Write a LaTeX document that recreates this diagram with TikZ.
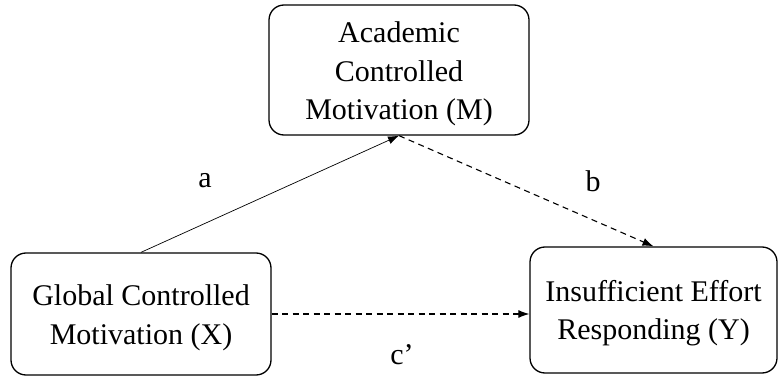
\documentclass[tikz,border=0pt]{standalone}
\usepackage{fontspec}
\setmainfont{Liberation Serif}
\usetikzlibrary{arrows.meta}
\begin{document}
\begin{tikzpicture}[x=1pt,y=-1pt,
  varbox/.style={draw, line width=1.3pt, rounded corners=15pt, inner sep=0pt},
  vartext/.style={align=center, inner sep=0pt, font=\fontsize{30}{38.5}\selectfont},
  pathlabel/.style={font=\fontsize{30}{35}\selectfont, inner sep=0pt},
  effect/.style={line width=0.7pt, -{Latex[length=11pt,width=8pt]}},
  weak/.style={effect, line width=1.1pt, dash pattern=on 6pt off 4.5pt}]
\useasboundingbox (0,0) rectangle (779,377);

% the three variables: outlines
\node[varbox, minimum width=260pt, minimum height=130pt] (M) at (399,70) {};
\node[varbox, minimum width=260pt, minimum height=122pt] (X) at (141,314) {};
\node[varbox, minimum width=247pt, minimum height=126pt] (Y) at (653.5,310) {};

% the three variables: names
\node[vartext] (Mt) at ([yshift=-4pt]M.center) {Academic\\Controlled\\Motivation (M)};
\node[vartext] (Xt) at ([yshift=-4pt]X.center) {Global Controlled\\Motivation (X)};
\node[vartext] (Yt) at ([yshift=-3pt]Y.center) {Insufficient Effort\\Responding (Y)};

% paths between them
\draw[effect] (X.north) -- (M.south);
\draw[weak] (M.south) -- (Y.north);
\draw[weak] (X.east) -- (Y.west |- X.east);

% path labels
\node[pathlabel] (la) at (205,181) {a};
\node[pathlabel] (lb) at (593,181) {b};
\node[pathlabel] (lc) at (402,355) {c’};
\end{tikzpicture}
\end{document}
